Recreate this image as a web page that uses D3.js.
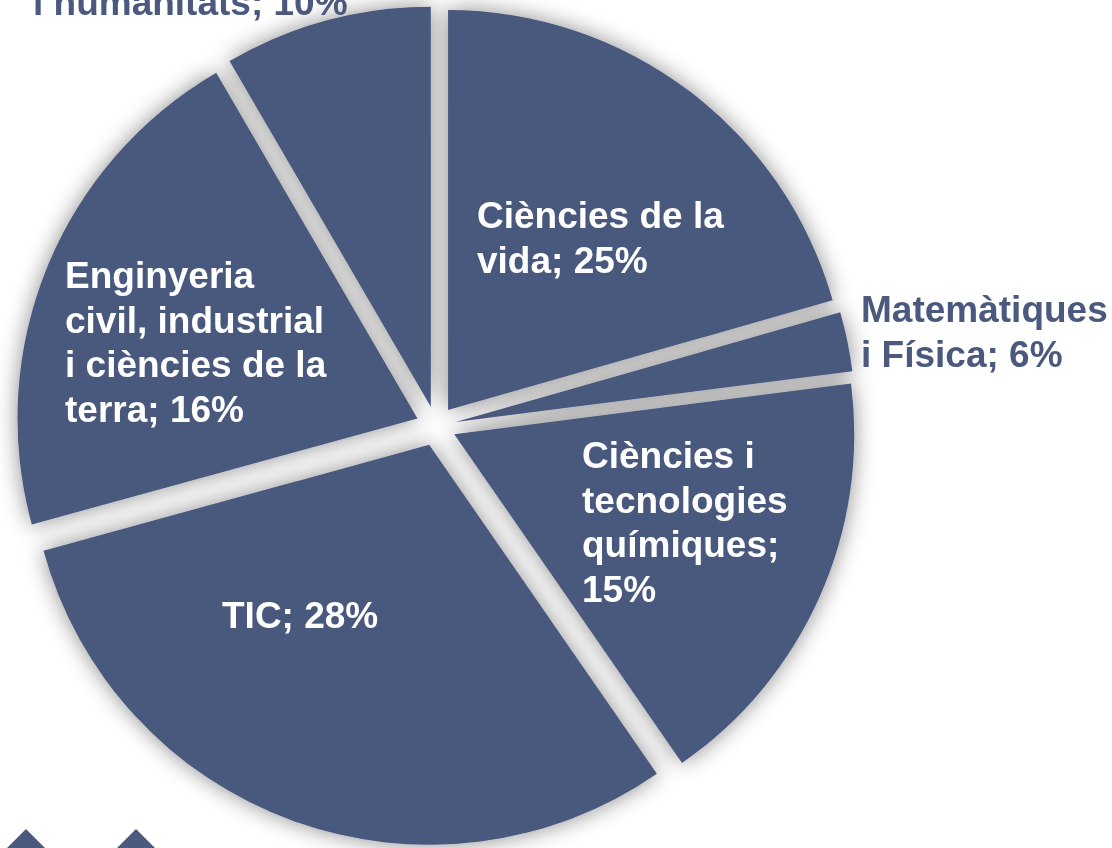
<!DOCTYPE html>
<html>
<head>
<meta charset="utf-8">
<script src="https://cdn.jsdelivr.net/npm/d3@7"></script>
<style>
  body { margin: 0; background: #fff; }
  svg { display: block; }
  .lbl { font-family: "Liberation Sans", Arial, sans-serif; font-weight: bold; font-size: 37px; }
</style>
</head>
<body>
<div id="chart"></div>
<script>
// categories, printed percentages, and slice shares as drawn
var categories = ["Ciències de la\nvida", "Matemàtiques\ni Física", "Ciències i\ntecnologies\nquímiques", "TIC",
  "Enginyeria\ncivil, industrial\ni ciències de la\nterra", "i humanitats"];
var labelPct = [25, 6, 15, 28, 16, 10];
var sliceShare = [20.6, 2.4, 17.4, 30.4, 20.9, 8.4];
var labelSep = ["; ", "; ", ";\n", "; ", "; ", "; "];

// layout (label left edge / first baseline, inside or outside the pie)
var labelPos = [[477, 228], [861, 322], [582, 468], [222, 628], [65, 288], [33, 15]];
var labelInside = [true, false, true, true, true, false];

var width = 1112, height = 848;
var cx = 436, cy = 426, radius = 400, explode = 20, lineH = 44.5;
var fill = "#4a597d";

var svg = d3.select("#chart").append("svg")
  .attr("width", width)
  .attr("height", height);

var defs = svg.append("defs");
var f = defs.append("filter").attr("id", "glow")
  .attr("x", "-20%").attr("y", "-20%").attr("width", "140%").attr("height", "140%");
f.append("feGaussianBlur").attr("in", "SourceAlpha").attr("stdDeviation", 11).attr("result", "blur");
f.append("feFlood").attr("flood-color", "#000").attr("flood-opacity", 0.45);
f.append("feComposite").attr("in2", "blur").attr("operator", "in").attr("result", "shadow");
var merge = f.append("feMerge");
merge.append("feMergeNode").attr("in", "shadow");
merge.append("feMergeNode").attr("in", "SourceGraphic");

var pie = d3.pie().sort(null).value(function(d) { return d; });
var arc = d3.arc().innerRadius(0).outerRadius(radius);
var arcs = pie(sliceShare);

var g = svg.append("g")
  .attr("transform", "translate(" + cx + "," + cy + ")")
  .attr("filter", "url(#glow)");

g.selectAll("path.slice")
  .data(arcs)
  .enter().append("path")
    .attr("class", "slice")
    .attr("fill", fill)
    .attr("d", arc)
    .attr("transform", function(d) {
      var mid = (d.startAngle + d.endAngle) / 2;
      return "translate(" + (explode * Math.sin(mid)) + "," + (-explode * Math.cos(mid)) + ")";
    });

// logo chevrons at bottom left (cut by the frame)
svg.append("g").selectAll("path.chev")
  .data([26, 136])
  .enter().append("path")
    .attr("class", "chev")
    .attr("fill", fill)
    .attr("d", function(x) {
      var p = d3.path();
      p.moveTo(x, 829);
      p.lineTo(x + 45, 874);
      p.lineTo(x - 45, 874);
      p.closePath();
      return p.toString();
    });

// labels
var labels = svg.append("g");
categories.forEach(function(name, i) {
  var lines = (name + labelSep[i] + labelPct[i] + "%").split("\n");
  var t = labels.append("text")
    .attr("class", "lbl")
    .attr("x", labelPos[i][0])
    .attr("y", labelPos[i][1])
    .attr("fill", labelInside[i] ? "#fff" : fill);
  lines.forEach(function(line, j) {
    t.append("tspan")
      .attr("x", labelPos[i][0])
      .attr("dy", j === 0 ? 0 : lineH)
      .text(line);
  });
});
</script>
</body>
</html>
